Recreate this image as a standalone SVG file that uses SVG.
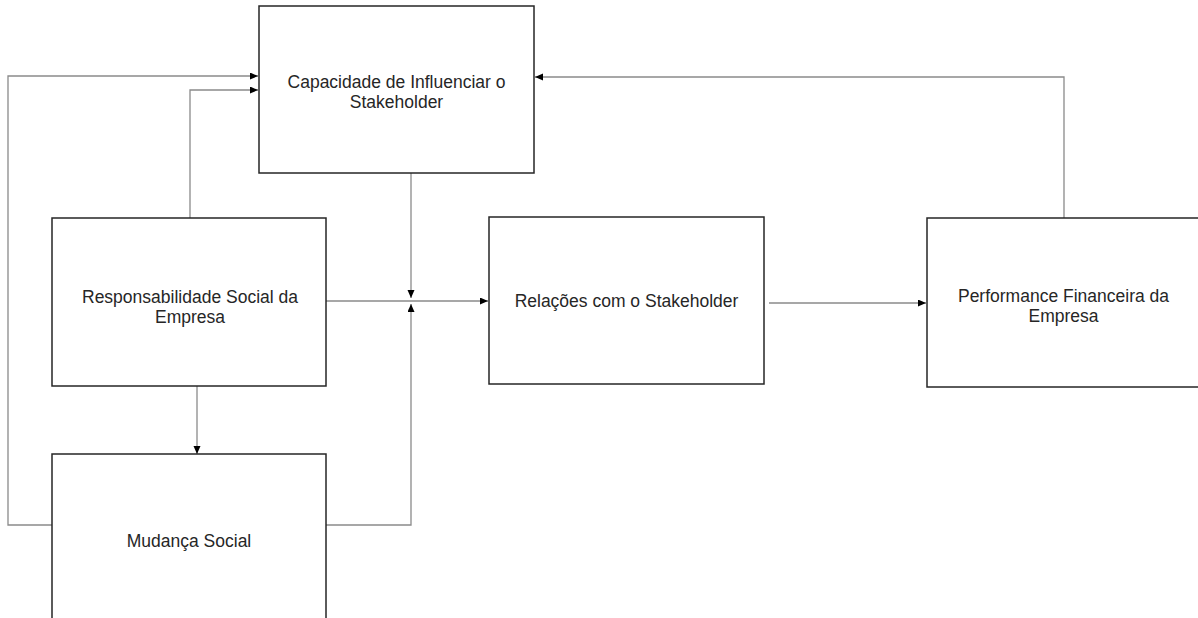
<svg xmlns="http://www.w3.org/2000/svg" width="1198" height="618" viewBox="0 0 1198 618">
  <style>
    .box { fill: #ffffff; stroke: #262626; stroke-width: 1.5; }
    .lbl { font-family: "Liberation Sans", Arial, sans-serif; font-size: 17.5px; fill: #262626; text-anchor: middle; }
    .conn { fill: none; stroke: #8a8a8a; stroke-width: 1.3; }
  </style>
  <defs>
    <marker id="arr" markerUnits="userSpaceOnUse" markerWidth="9" markerHeight="8" refX="8" refY="3.5" orient="auto">
      <path d="M0,0 L8,3.5 L0,7 z" fill="#000000"/>
    </marker>
  </defs>
  <rect width="1198" height="618" fill="#ffffff"/>

  <g id="connectors">
    <path class="conn" d="M52,525 H8 V76 H258" marker-end="url(#arr)"/>
    <path class="conn" d="M190,218 V90 H258" marker-end="url(#arr)"/>
    <path class="conn" d="M411,173 V298" marker-end="url(#arr)"/>
    <path class="conn" d="M326,301 H488" marker-end="url(#arr)"/>
    <path class="conn" d="M326,525 H411 V304" marker-end="url(#arr)"/>
    <path class="conn" d="M197,386 V454" marker-end="url(#arr)"/>
    <path class="conn" d="M769,303 H926" marker-end="url(#arr)"/>
    <path class="conn" d="M1064,218 V77 H535" marker-end="url(#arr)"/>
  </g>

  <g id="capacidade">
    <rect class="box" x="259" y="6" width="275" height="167"/>
    <text class="lbl" x="396.5" y="88">Capacidade de Influenciar o</text>
    <text class="lbl" x="396.5" y="108">Stakeholder</text>
  </g>

  <g id="responsabilidade">
    <rect class="box" x="52" y="218" width="274" height="168"/>
    <text class="lbl" x="190" y="303">Responsabilidade Social da</text>
    <text class="lbl" x="190" y="323">Empresa</text>
  </g>

  <g id="relacoes">
    <rect class="box" x="489" y="217" width="275" height="167"/>
    <text class="lbl" x="626.5" y="307">Relações com o Stakeholder</text>
  </g>

  <g id="performance">
    <rect class="box" x="927" y="218" width="273" height="169"/>
    <text class="lbl" x="1063.5" y="302">Performance Financeira da</text>
    <text class="lbl" x="1063.5" y="322">Empresa</text>
  </g>

  <g id="mudanca">
    <rect class="box" x="52" y="454" width="274" height="170"/>
    <text class="lbl" x="189" y="547">Mudança Social</text>
  </g>
</svg>
